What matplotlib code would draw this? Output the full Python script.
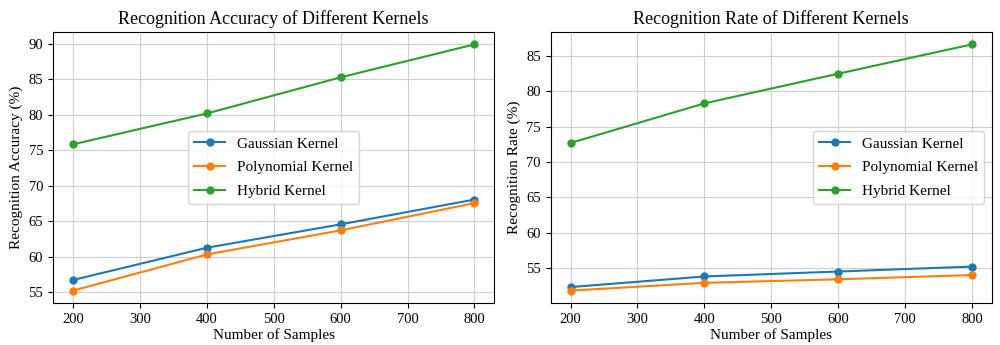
import matplotlib.pyplot as plt

plt.rcParams['font.family'] = ['Liberation Serif', 'DejaVu Serif']

samples = [200, 400, 600, 800]
kernels = ['Gaussian Kernel', 'Polynomial Kernel', 'Hybrid Kernel']

# left panel: recognition accuracy (%)
acc_gaussian = [56.7, 61.25, 64.55, 68.05]
acc_polynomial = [55.2, 60.3, 63.7, 67.55]
acc_hybrid = [75.85, 80.2, 85.3, 89.95]

# right panel: recognition rate (%)
rate_gaussian = [52.3, 53.8, 54.5, 55.2]
rate_polynomial = [51.8, 52.9, 53.4, 54.0]
rate_hybrid = [72.7, 78.3, 82.5, 86.65]

fig, (ax1, ax2) = plt.subplots(1, 2, figsize=(10, 3.45), dpi=100)
fig.subplots_adjust(left=0.053, right=0.992, bottom=0.122, top=0.907, wspace=0.127)

panels = [
    (ax1, [acc_gaussian, acc_polynomial, acc_hybrid],
     'Recognition Accuracy of Different Kernels', 'Recognition Accuracy (%)', 'center'),
    (ax2, [rate_gaussian, rate_polynomial, rate_hybrid],
     'Recognition Rate of Different Kernels', 'Recognition Rate (%)', 'center right'),
]

for ax, series, title, ylabel, loc in panels:
    for vals, name in zip(series, kernels):
        ax.plot(samples, vals, marker='o', markersize=5, linewidth=1.5, label=name)
    ax.set_title(title, fontsize=13)
    ax.set_xlabel('Number of Samples', fontsize=11, labelpad=2)
    ax.set_ylabel(ylabel, fontsize=11)
    ax.set_xticks([200, 300, 400, 500, 600, 700, 800])
    ax.tick_params(labelsize=10.5)
    ax.grid(True, color='#d0d0d0')
    ax.legend(loc=loc, fontsize=11, labelspacing=0.65)

plt.savefig('out.png')
